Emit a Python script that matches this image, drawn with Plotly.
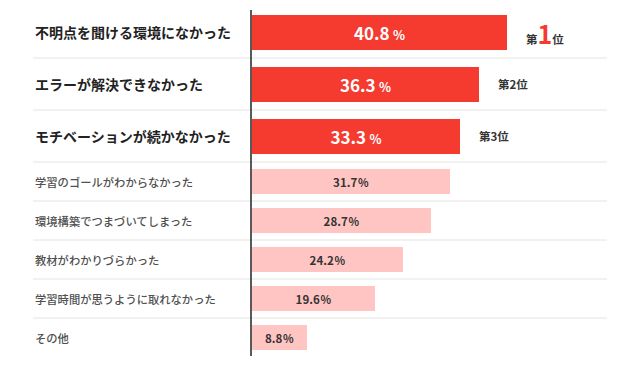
import plotly.graph_objects as go

categories = [
    "不明点を聞ける環境になかった",
    "エラーが解決できなかった",
    "モチベーションが続かなかった",
    "学習のゴールがわからなかった",
    "環境構築でつまづいてしまった",
    "教材がわかりづらかった",
    "学習時間が思うように取れなかった",
    "その他",
]
values = [40.8, 36.3, 33.3, 31.7, 28.7, 24.2, 19.6, 8.8]
ranks = [1, 2, 3]

# layout / style parameters
W, H = 640, 373
TOP_M, BOT_M = 6, 16
top_n = 3
row_h_top, row_h_bot = 52, 39
bar_w_top, bar_w_bot = 35, 25.5
RED = "#f53a30"
PINK = "#ffc5c3"
FONT = "Noto Sans CJK JP"
px_per_unit = 6.25
x0_px = 252

row_heights = [row_h_top if i < top_n else row_h_bot for i in range(len(categories))]
bounds = [0]
for h in row_heights:
    bounds.append(bounds[-1] + h)
centers = [(bounds[i] + bounds[i + 1]) / 2 for i in range(len(categories))]
total = bounds[-1]

fig = go.Figure()

top_text = [f"<b>{v}</b>\u2009<span style='font-size:12.5px'><b>%</b></span>" for v in values[:top_n]]
bot_text = [f"<b>{v}</b>\u200a<span style='font-size:11px'><b>%</b></span>" for v in values[top_n:]]

fig.add_trace(go.Bar(
    x=values[:top_n], y=centers[:top_n], orientation="h",
    width=bar_w_top, marker=dict(color=RED, line=dict(width=0)),
    text=top_text, textposition="inside", insidetextanchor="middle",
    textangle=0, constraintext="none",
    textfont=dict(family=FONT, size=17, color="white"),
    hoverinfo="skip",
))
fig.add_trace(go.Bar(
    x=values[top_n:], y=centers[top_n:], orientation="h",
    width=bar_w_bot, marker=dict(color=PINK, line=dict(width=0)),
    text=bot_text, textposition="inside", insidetextanchor="middle",
    textangle=0, constraintext="none",
    textfont=dict(family=FONT, size=11.5, color="#333333"),
    hoverinfo="skip",
))

shapes = []
# row separators
for b in bounds[1:-1]:
    shapes.append(dict(type="line", xref="paper", yref="y",
                       x0=33 / W, x1=607 / W, y0=b, y1=b,
                       line=dict(color="#e4e4e4", width=1), layer="below"))
# vertical axis line
shapes.append(dict(type="line", xref="paper", yref="y",
                   x0=(x0_px - 1) / W, x1=(x0_px - 1) / W, y0=4, y1=total - 1,
                   line=dict(color="#222222", width=1.5)))

annotations = []
for i, c in enumerate(categories):
    if i < top_n:
        font = dict(family=FONT, size=14, color="#222222", weight="bold")
    else:
        font = dict(family=FONT, size=11.3, color="#505050", weight=500)
    annotations.append(dict(xref="paper", yref="y", x=33 / W, y=centers[i],
                            text=c, showarrow=False, xanchor="left", yanchor="middle",
                            font=font))

for i, r in enumerate(ranks):
    if r == 1:
        txt = f"<b>第</b><span style='font-size:25px;color:{RED}'><b>{r}</b></span><b>位</b>"
    else:
        txt = f"<b>第{r}位</b>"
    annotations.append(dict(xref="x", yref="y", x=values[i], y=centers[i],
                            text=txt, showarrow=False, xanchor="left", yanchor="middle",
                            xshift=17, yshift=-1 if r == 1 else 0,
                            font=dict(family=FONT, size=11.5, color="#333333")))

fig.update_layout(
    width=W, height=H,
    margin=dict(l=0, r=0, t=TOP_M, b=BOT_M),
    paper_bgcolor="white", plot_bgcolor="white",
    showlegend=False, bargap=0,
    xaxis=dict(domain=[x0_px / W, 1], range=[0, (W - x0_px) / px_per_unit],
               showgrid=False, zeroline=False, showticklabels=False, showline=False),
    yaxis=dict(range=[total, 0], showgrid=False, zeroline=False,
               showticklabels=False, showline=False),
    shapes=shapes, annotations=annotations,
    font=dict(family=FONT),
)

fig.write_html("out.html", config={"displayModeBar": False},
               post_script="document.body.style.margin='0';document.body.style.padding='0';")
